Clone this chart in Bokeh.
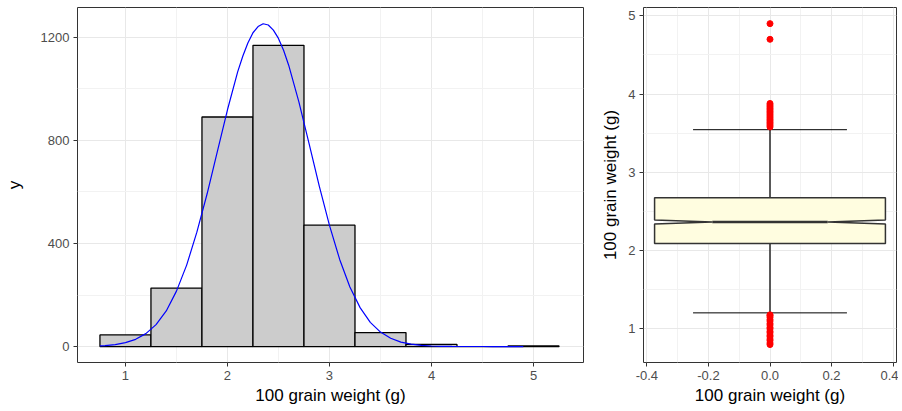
from bokeh.plotting import figure
from bokeh.layouts import row
from bokeh.models import Range1d, FixedTicker
from bokeh.embed import file_html
from bokeh.resources import INLINE

# ---- histogram data (100 grain weight, bin width 0.5) ----
hist_centers = [1.0, 1.5, 2.0, 2.5, 3.0, 3.5, 4.0, 4.5, 5.0]
hist_counts = [45, 227, 891, 1169, 471, 54, 8, 0, 2]

# ---- fitted density curve (scaled to counts) ----
curve_x = [0.75, 0.8, 0.9, 1.0, 1.1, 1.2, 1.3, 1.4, 1.5, 1.6, 1.7, 1.8, 1.9, 2.0,
           2.1, 2.15, 2.2, 2.25, 2.3, 2.35, 2.4, 2.45, 2.5, 2.55, 2.6, 2.7, 2.8,
           2.9, 3.0, 3.1, 3.2, 3.3, 3.4, 3.5, 3.6, 3.7, 3.8, 3.9, 4.0, 4.1, 4.2,
           4.3, 4.4, 4.5, 4.6, 4.7, 4.8, 4.9]
curve_y = [2.5, 3.7, 7.6, 15, 28, 50, 85, 138, 215, 316, 444, 592, 756, 919,
           1066, 1127, 1178, 1218, 1242, 1253, 1248, 1228, 1196, 1150, 1092, 950, 788,
           623, 470, 338, 231, 151, 94, 56, 32, 17, 9, 4.3, 2.0, 0.9, 0.4,
           0.15, 0.06, 0.02, 0, 0, 0, 0]

# ---- boxplot statistics ----
box_q1 = 2.09
box_median = 2.365
box_q3 = 2.675
box_notch = 0.025
whisker_low = 1.205
whisker_high = 3.545
outliers_high = [3.58, 3.60, 3.62, 3.64, 3.66, 3.68, 3.70, 3.72, 3.74, 3.76, 3.78,
                 3.80, 3.82, 3.84, 3.86, 3.88, 4.70, 4.90]
outliers_low = [0.80, 0.82, 0.85, 0.87, 0.90, 0.92, 0.95, 0.97, 1.00, 1.02, 1.05,
                1.07, 1.10, 1.12, 1.15, 1.17, 1.18]

hist_x_ticks = [1, 2, 3, 4, 5]
hist_y_ticks = [0, 400, 800, 1200]
box_x_ticks = [-0.4, -0.2, 0.0, 0.2, 0.4]
box_y_ticks = [1, 2, 3, 4, 5]

FONT = "Liberation Sans"
BORDER = "#333333"


def style(p, xlabel, ylabel, xt, xm, yt, ym, xlab_override=None):
    p.outline_line_color = BORDER
    p.outline_line_width = 1
    p.background_fill_color = "white"
    p.xaxis.ticker = FixedTicker(ticks=xt, minor_ticks=xm)
    p.yaxis.ticker = FixedTicker(ticks=yt, minor_ticks=ym)
    if xlab_override:
        p.xaxis.major_label_overrides = xlab_override
    for ax in (p.xaxis[0], p.yaxis[0]):
        ax.axis_line_color = None
        ax.major_tick_line_color = BORDER
        ax.major_tick_out = 4
        ax.major_tick_in = 0
        ax.minor_tick_line_color = None
        ax.major_label_text_font = FONT
        ax.major_label_text_font_size = "13px"
        ax.major_label_text_color = "#4D4D4D"
        ax.major_label_standoff = 4
        ax.axis_label_text_font = FONT
        ax.axis_label_text_font_size = "17px"
        ax.axis_label_text_font_style = "normal"
        ax.axis_label_text_color = "black"
    p.xaxis.axis_label = xlabel
    p.yaxis.axis_label = ylabel
    p.xaxis.axis_label_standoff = 3
    for g in (p.xgrid[0], p.ygrid[0]):
        g.grid_line_color = "#E8E8E8"
        g.grid_line_width = 1
        g.minor_grid_line_color = "#F2F2F2"
        g.minor_grid_line_width = 1


# ---------------- left: histogram ----------------
p1 = figure(width=590, height=411, output_backend="svg", toolbar_location=None,
            x_range=Range1d(0.53, 5.49), y_range=Range1d(-62, 1316),
            min_border_left=77, min_border_right=7, min_border_top=7,
            min_border_bottom=49)
style(p1, "100 grain weight (g)", "y", hist_x_ticks, [1.5, 2.5, 3.5, 4.5],
      hist_y_ticks, [200, 600, 1000])
p1.yaxis.axis_label_standoff = 14

p1.vbar(x=hist_centers, top=hist_counts, bottom=0, width=0.5,
        fill_color="#CCCCCC", line_color="black", line_width=1.3)
p1.line(curve_x, curve_y, line_color="blue", line_width=1.2)

# ---------------- right: notched boxplot ----------------
p2 = figure(width=308, height=411, output_backend="svg", toolbar_location=None,
            x_range=Range1d(-0.411, 0.411), y_range=Range1d(0.571, 5.106),
            min_border_left=53, min_border_right=2, min_border_top=7,
            min_border_bottom=49)
style(p2, "100 grain weight (g)", "100 grain weight (g)", box_x_ticks,
      [-0.3, -0.1, 0.1, 0.3], box_y_ticks, [1.5, 2.5, 3.5, 4.5],
      xlab_override={-0.4: "-0.4", -0.2: "-0.2", 0.0: "0.0", 0: "0.0",
                     0.2: "0.2", 0.4: "0.4"})
p2.yaxis.axis_label_standoff = 5

hw = 0.375  # half width of box
nw = hw * 0.5  # notch half width
# whisker vertical lines
p2.segment(x0=[0, 0], y0=[box_q3, box_q1], x1=[0, 0], y1=[whisker_high, whisker_low],
           line_color=BORDER, line_width=1.6)
# errorbar caps
p2.segment(x0=[-0.25, -0.25], y0=[whisker_high, whisker_low],
           x1=[0.25, 0.25], y1=[whisker_high, whisker_low],
           line_color="black", line_width=1)
# notched box
bx = [-hw, hw, hw, nw, hw, hw, -hw, -hw, -nw, -hw]
by = [box_q1, box_q1, box_median - box_notch, box_median, box_median + box_notch,
      box_q3, box_q3, box_median + box_notch, box_median, box_median - box_notch]
p2.patch(bx, by, fill_color="#FFFDE0", line_color=BORDER, line_width=1.5)
p2.segment(x0=[-nw], y0=[box_median], x1=[nw], y1=[box_median],
           line_color=BORDER, line_width=2.6)
# outliers
outs = outliers_high + outliers_low
p2.scatter([0] * len(outs), outs, size=6, fill_color="red", line_color="red")

layout = row(p1, p2)
open("out.html", "w").write(file_html(layout, INLINE))
